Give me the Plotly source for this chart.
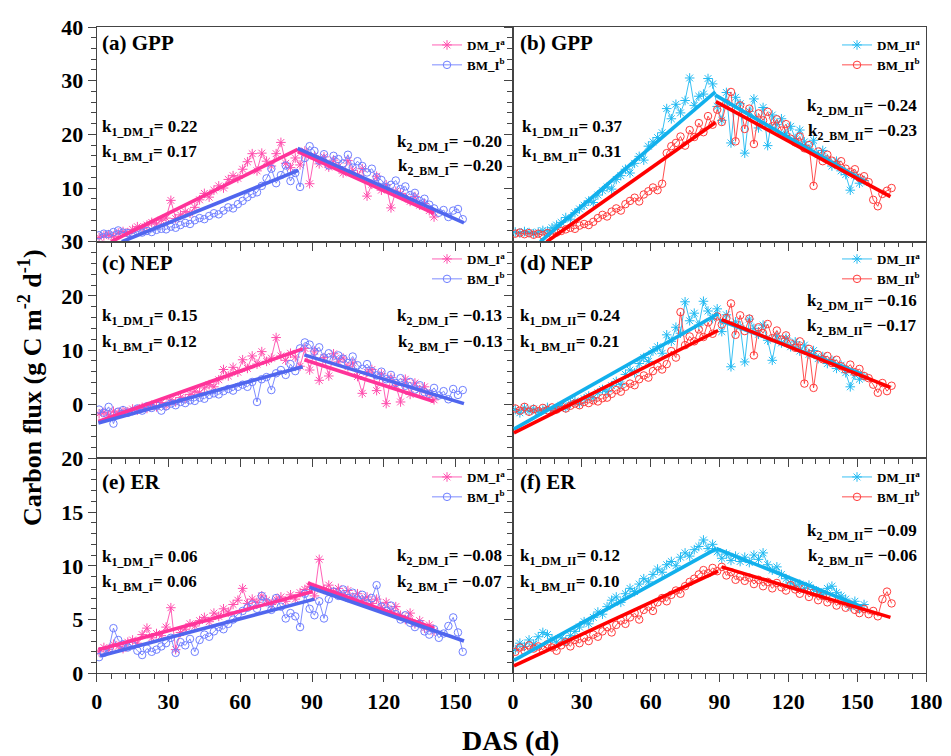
import plotly.graph_objects as go

# ------------------------------------------------------------------ data
# sampling days (every second day of the season)
days_dm_i = list(range(1, 142, 2))
days_bm_i = list(range(1, 154, 2))
days_dm_ii = list(range(1, 154, 2))
days_bm_ii = list(range(1, 166, 2))

# GPP
gpp_dm_i = [0.8, 1.1, 1.3, 1.0, 1.6, 1.9, 1.7, 2.3, 2.8, 2.5,
            3.1, 3.6, 3.3, 4.0, 4.4, 7.7, 4.3, 5.0, 5.6, 5.3,
            6.4, 7.8, 9.0, 8.3, 9.6, 10.4, 10.0, 11.6, 12.3, 11.8,
            13.5, 14.9, 16.4, 13.2, 16.5, 15.0, 14.1, 16.4, 18.5, 14.6,
            13.8, 15.6, 14.3, 16.9, 10.8, 16.0, 14.5, 15.8, 13.9, 15.2,
            14.0, 12.8, 15.1, 13.3, 12.4, 13.6, 8.5, 10.7, 12.2, 9.6,
            10.6, 6.3, 9.4, 9.0, 8.2, 7.5, 8.4, 6.8, 7.1, 5.8,
            4.6]
gpp_bm_i = [1.2, 1.5, 1.4, 1.8, 2.1, 1.7, 1.6, 1.5, 1.9, 1.7,
            2.0, 1.8, 2.2, 2.4, 2.3, 2.8, 2.6, 3.1, 3.5, 3.3,
            4.0, 4.4, 4.2, 4.8, 5.3, 5.1, 5.8, 6.4, 6.2, 7.0,
            7.6, 8.3, 8.9, 9.2, 10.4, 11.8, 13.6, 10.9, 12.4, 14.2,
            11.3, 12.8, 10.2, 15.6, 17.8, 16.9, 15.1, 16.3, 14.2, 16.0,
            15.4, 14.6, 16.2, 13.8, 15.0, 14.1, 12.9, 13.6, 12.0, 11.5,
            10.2, 10.6, 11.4, 9.8, 10.3, 8.7, 9.1, 7.6, 8.0, 6.9,
            6.2, 5.4, 5.9, 4.6, 5.8, 6.1, 4.2]
gpp_dm_ii = [1.8, 1.6, 1.9, 1.7, 1.5, 1.8, 2.1, 2.0, 2.6, 3.1,
             3.6, 4.5, 4.2, 5.4, 6.1, 6.8, 7.6, 7.3, 8.7, 9.5,
             10.2, 9.8, 11.6, 12.3, 13.5, 12.8, 14.6, 15.9, 15.2, 17.8,
             18.6, 19.4, 20.3, 24.8, 22.9, 25.6, 24.0, 26.3, 30.5, 25.4,
             27.1, 27.5, 30.4, 29.4, 25.2, 22.6, 27.8, 18.4, 26.9, 25.7,
             16.5, 24.3, 26.6, 21.2, 25.0, 17.9, 23.6, 21.8, 22.9, 20.1,
             21.5, 19.2, 20.8, 18.6, 17.3, 18.9, 16.2, 17.0, 15.4, 14.1,
             15.0, 13.2, 12.5, 9.6, 12.4, 10.9, 11.4]
gpp_bm_ii = [1.5, 1.7, 1.4, 1.6, 1.3, 1.5, 1.2, 1.6, 1.4, 1.7,
             2.0, 2.3, 2.6, 2.4, 3.0, 3.3, 3.1, 3.7, 4.4, 5.0,
             4.7, 5.6, 6.2, 5.8, 7.0, 7.6, 8.2, 7.5, 8.8, 9.4,
             10.1, 9.6, 10.8, 16.5, 17.8, 18.4, 19.6, 17.9, 20.8, 19.5,
             22.1, 20.4, 23.4, 21.8, 24.6, 22.3, 25.8, 27.9, 18.7, 25.4,
             21.0, 24.8, 18.2, 23.9, 22.6, 24.2, 21.5, 22.8, 20.7, 21.9,
             19.2, 18.5, 19.6, 17.4, 18.0, 10.4, 16.8, 15.0, 16.2, 15.1,
             14.4, 15.0, 13.6, 13.0, 13.5, 11.9, 12.2, 11.1, 7.8, 6.6,
             8.9, 9.5, 10.0]

# NEP
nep_dm_i = [-1.8, -1.5, -2.0, -1.3, -1.6, -1.2, -1.4, -0.9, -1.1, -0.6,
            -0.8, -0.2, -0.5, 0.3, -0.3, 0.8, 0.4, 1.2, 1.0, 1.8,
            2.4, 2.1, 3.0, 3.6, 3.2, 4.5, 6.4, 5.2, 6.8, 5.9,
            8.2, 6.6, 8.9, 7.4, 9.7, 7.9, 8.5, 12.3, 8.9, 8.1,
            9.4, 8.7, 7.0, 10.3, 6.3, 9.8, 4.4, 8.6, 5.2, 9.3,
            7.8, 8.5, 6.9, 7.6, 5.1, 2.0, 5.9, 6.4, 2.5, 5.6,
            0.1, 4.9, 3.5, 0.4, 4.6, 1.8, 3.9, 2.6, 3.2, 1.9,
            0.8]
nep_bm_i = [-1.0, -1.6, -0.5, -3.6, -1.4, -1.1, -1.6, -1.3, -0.8, -1.2,
            -0.4, -0.7, -0.3, -1.2, -0.4, 0.1, -0.2, 0.4, 0.2, 0.7,
            0.6, 1.2, 1.0, 1.7, 2.0, 1.8, 2.4, 2.8, 2.5, 3.2,
            3.6, 3.2, 4.1, 0.4, 4.6, 5.0, 2.6, 5.7, 6.3, 5.4,
            7.4, 6.1, 10.3, 11.4, 11.0, 9.7, 10.5, 8.6, 9.4, 8.1,
            9.0, 8.4, 7.6, 8.8, 7.2, 6.5, 7.4, 6.1, 5.3, 6.0,
            4.6, 5.4, 3.9, 4.8, 3.4, 4.1, 2.7, 3.5, 2.2, 1.9,
            3.0, 1.6, 2.4, 0.9, 2.8, 1.7, 2.6]
nep_dm_ii = [-1.0, -1.6, -0.7, -1.3, -0.9, -1.5, -1.1, -0.6, -1.2, -0.8,
             -0.3, -0.7, 0.2, 0.6, 0.1, 1.0, 1.5, 1.2, 2.1, 2.7,
             2.3, 3.4, 4.2, 3.6, 5.5, 6.3, 5.8, 7.5, 8.6, 7.9,
             9.8, 10.6, 9.4, 12.8, 11.6, 14.2, 13.1, 18.9, 15.4, 16.8,
             14.6, 19.0, 17.2, 15.8, 17.6, 13.4, 16.5, 6.9, 15.2, 14.4,
             7.8, 15.7, 14.0, 12.9, 14.6, 11.8, 8.1, 12.6, 11.3, 12.2,
             10.6, 11.5, 9.8, 10.9, 9.2, 9.9, 8.4, 8.8, 7.5, 8.1,
             6.6, 7.2, 5.8, 3.2, 5.4, 4.6, 5.1]
nep_bm_ii = [-0.8, -1.2, -0.5, -1.4, -0.9, -1.3, -0.7, -1.1, -0.6, -1.0,
             -0.4, -0.8, -0.3, 0.1, -0.2, 0.4, 0.2, 0.7, 0.5, 1.1,
             1.2, 1.9, 2.6, 2.3, 3.2, 3.8, 3.5, 4.6, 5.3, 4.9,
             6.1, 7.0, 6.4, 7.4, 9.8, 8.6, 17.0, 10.9, 12.5, 11.6,
             13.8, 12.4, 15.1, 13.0, 16.2, 14.7, 15.9, 18.6, 12.8, 16.4,
             13.5, 15.8, 9.0, 14.2, 13.1, 14.8, 12.2, 13.6, 11.9, 12.7,
             11.2, 10.4, 11.6, 3.8, 10.2, 3.0, 9.1, 8.3, 8.9, 7.6,
             8.2, 7.0, 6.4, 7.3, 5.9, 6.5, 5.2, 4.8, 3.6, 2.1,
             3.9, 2.4, 3.4]

# ER
er_dm_i = [2.0, 2.4, 2.2, 2.7, 2.5, 2.3, 2.9, 3.1, 2.8, 3.6,
           4.2, 3.3, 3.7, 3.5, 4.3, 6.1, 2.2, 3.8, 4.1, 4.6,
           4.4, 4.9, 5.2, 4.8, 5.6, 5.3, 6.0, 5.7, 6.4, 6.8,
           7.9, 6.5, 6.9, 6.6, 7.2, 6.8, 6.4, 6.9, 7.1, 6.7,
           7.3, 6.9, 7.5, 7.8, 8.1, 7.2, 10.6, 7.8, 8.2, 7.6,
           7.9, 7.3, 7.7, 7.0, 7.4, 6.8, 7.1, 6.5, 6.9, 6.1,
           6.6, 5.8, 6.2, 5.4, 5.0, 5.6, 4.6, 4.9, 4.2, 4.5,
           3.9]
er_bm_i = [1.5, 1.9, 2.2, 4.2, 3.1, 2.7, 2.4, 2.6, 2.1, 1.7,
           2.3, 2.0, 2.2, 2.5, 2.8, 3.3, 1.9, 2.9, 2.6, 3.2,
           2.0, 3.1, 3.6, 3.4, 3.9, 4.3, 4.1, 4.6, 5.0, 5.5,
           5.8, 6.1, 6.4, 6.0, 7.2, 6.6, 5.9, 7.0, 6.2, 5.1,
           5.6, 5.3, 4.3, 7.4, 6.0, 5.4, 6.7, 5.1, 6.9, 7.6,
           7.2, 7.8, 7.0, 7.5, 6.8, 7.3, 6.5, 7.0, 8.2, 6.2,
           5.8, 6.3, 5.5, 5.0, 5.4, 4.7, 4.3, 4.6, 3.9, 3.6,
           4.1, 3.3, 3.7, 4.4, 5.2, 3.8, 2.0]
er_dm_ii = [2.2, 2.8, 2.5, 3.1, 2.7, 3.4, 3.8, 3.6, 3.2, 2.9,
            3.3, 3.0, 3.5, 3.9, 4.3, 4.8, 4.6, 5.2, 5.7, 5.5,
            6.2, 6.8, 7.1, 6.6, 7.4, 7.9, 7.6, 8.3, 8.8, 8.5,
            9.2, 9.7, 9.4, 10.1, 10.4, 10.0, 10.8, 11.2, 10.9, 11.5,
            11.8, 12.4, 11.6, 12.0, 11.3, 10.7, 11.1, 10.5, 10.9, 10.4,
            10.8, 10.3, 11.0, 10.6, 11.2, 10.1, 9.6, 9.9, 9.2, 8.8,
            8.4, 8.1, 8.3, 7.9, 8.2, 7.8, 7.6, 7.3, 7.9, 8.1,
            7.5, 7.2, 6.9, 6.2, 6.7, 6.0, 6.4]
er_bm_ii = [2.0, 2.4, 2.1, 2.6, 2.3, 2.5, 2.2, 2.7, 2.4, 2.1,
            2.6, 2.9, 2.5, 3.1, 2.8, 3.3, 3.0, 3.6, 3.4, 3.9,
            4.3, 3.8, 4.5, 4.9, 4.6, 5.2, 5.6, 5.0, 5.9, 6.2,
            5.8, 6.6, 7.0, 6.7, 7.3, 7.7, 7.4, 8.1, 8.5, 8.8,
            9.2, 9.6, 9.3, 9.8, 9.5, 9.9, 9.1, 9.4, 8.7, 9.0,
            8.6, 8.9, 8.3, 8.7, 8.1, 8.5, 7.9, 8.4, 8.0, 7.7,
            8.2, 7.8, 7.4, 7.9, 7.1, 7.5, 6.8, 7.2, 6.6, 6.9,
            6.3, 6.7, 6.1, 6.4, 5.9, 5.6, 6.0, 5.5, 5.8, 5.3,
            6.9, 7.6, 6.5]

# piecewise linear fits (rising segment, gap, falling segment)
gpp_dm_i_fit_x = [6, 84, None, 84, 141]
gpp_dm_i_fit_y = [0, 17.2, None, 16.8, 5.3]
gpp_bm_i_fit_x = [10.5, 84.3, None, 84, 153.5]
gpp_bm_i_fit_y = [0, 13.3, None, 17.4, 3.5]
gpp_dm_ii_fit_x = [11.9, 88.2, None, 88.2, 153.3]
gpp_dm_ii_fit_y = [0, 27.9, None, 27.3, 11.2]
gpp_bm_ii_fit_x = [14.7, 88.2, None, 88.4, 164.5]
gpp_bm_ii_fit_y = [0, 22.2, None, 26.1, 8.4]

nep_dm_i_fit_x = [0.7, 86.1, None, 86.8, 141]
nep_dm_i_fit_y = [-3.2, 10.2, None, 8.2, 0.5]
nep_bm_i_fit_x = [0.7, 86.1, None, 86.8, 153.5]
nep_bm_i_fit_y = [-3.5, 6.9, None, 9.1, 0.1]
nep_dm_ii_fit_x = [0.4, 89.4, None, 90.1, 152]
nep_dm_ii_fit_y = [-4.6, 16.7, None, 15.5, 5.6]
nep_bm_ii_fit_x = [0.4, 89.4, None, 90.9, 164.5]
nep_bm_ii_fit_y = [-5.3, 13.6, None, 15.6, 3.1]

er_dm_i_fit_x = [0.7, 90.3, None, 88.2, 141]
er_dm_i_fit_y = [2.2, 7.6, None, 8.4, 4.2]
er_bm_i_fit_x = [1.4, 91, None, 88.9, 153.5]
er_bm_i_fit_y = [1.6, 6.9, None, 8.0, 3.0]
er_dm_ii_fit_x = [0.4, 88.7, None, 88.7, 151.9]
er_dm_ii_fit_y = [1.2, 11.6, None, 11.6, 6.2]
er_bm_ii_fit_x = [0.4, 89.4, None, 90.9, 164.5]
er_bm_ii_fit_y = [0.7, 9.5, None, 9.9, 5.2]

panel_titles = ["(a) GPP", "(b) GPP", "(c) NEP", "(d) NEP", "(e) ER", "(f) ER"]
k1_texts = [["k<sub>1_DM_I</sub>= 0.22", "k<sub>1_BM_I</sub>= 0.17"],
            ["k<sub>1_DM_II</sub>= 0.37", "k<sub>1_BM_II</sub>= 0.31"],
            ["k<sub>1_DM_I</sub>= 0.15", "k<sub>1_BM_I</sub>= 0.12"],
            ["k<sub>1_DM_II</sub>= 0.24", "k<sub>1_BM_II</sub>= 0.21"],
            ["k<sub>1_DM_I</sub>= 0.06", "k<sub>1_BM_I</sub>= 0.06"],
            ["k<sub>1_DM_II</sub>= 0.12", "k<sub>1_BM_II</sub>= 0.10"]]
k2_texts = [["k<sub>2_DM_I</sub>= \u22120.20", "k<sub>2_BM_I</sub>= \u22120.20"],
            ["k<sub>2_DM_II</sub>= \u22120.24", "k<sub>2_BM_II</sub>= \u22120.23"],
            ["k<sub>2_DM_I</sub>= \u22120.13", "k<sub>2_BM_I</sub>= \u22120.13"],
            ["k<sub>2_DM_II</sub>= \u22120.16", "k<sub>2_BM_II</sub>= \u22120.17"],
            ["k<sub>2_DM_I</sub>= \u22120.08", "k<sub>2_BM_I</sub>= \u22120.07"],
            ["k<sub>2_DM_II</sub>= \u22120.09", "k<sub>2_BM_II</sub>= \u22120.06"]]

x_ticks_left = [0, 30, 60, 90, 120, 150]
x_ticks_right = [0, 30, 60, 90, 120, 150, 180]
y_ticks_rows = [[0, 10, 20, 30, 40], [-10, 0, 10, 20, 30], [0, 5, 10, 15, 20]]
y_text_rows = [["", "10", "20", "30", "40"], ["", "0", "10", "20", "30"],
               ["0", "5", "10", "15", "20"]]

for a, b in [(days_dm_i, gpp_dm_i), (days_bm_i, gpp_bm_i), (days_dm_ii, gpp_dm_ii),
             (days_bm_ii, gpp_bm_ii), (days_dm_i, nep_dm_i), (days_bm_i, nep_bm_i),
             (days_dm_ii, nep_dm_ii), (days_bm_ii, nep_bm_ii), (days_dm_i, er_dm_i),
             (days_bm_i, er_bm_i), (days_dm_ii, er_dm_ii), (days_bm_ii, er_bm_ii)]:
    assert len(a) == len(b), (len(a), len(b))

# ------------------------------------------------------------------ style
# the page body has an 8 px margin: reference pixel positions are shifted
OFF = 8
W, H = 951 - OFF, 756 - OFF
SERIF = "Liberation Serif, Times New Roman, Times, DejaVu Serif, serif"
PINK, PINK_FIT = "#FF4FAE", "#FF3399"
BLUE, BLUE_FIT = "#6F7FFF", "#5066EE"
CYAN, CYAN_FIT = "#22BAF2", "#12B0EC"
RED, RED_FIT = "#FF3B3B", "#FF0000"
AX = "#444444"


def px(x):
    return (x - OFF) / W


def py(y):
    return 1 - (y - OFF) / H


RIGHT_EDGE = 926
X_DOM = [[px(96.7), px(513)], [px(513), px(RIGHT_EDGE)]]
Y_DOM = [[py(241.7), py(27)], [py(458.3), py(241.7)], [py(673.3), py(458.3)]]
Y_RANGE = [[0, 40], [-10, 30], [0, 20]]
Y_MINOR = [2, 2, 1]
X_RANGE = [[0, 174], [0, 180]]

panels = [
    (0, 0, (days_dm_i, gpp_dm_i), (days_bm_i, gpp_bm_i),
     (gpp_dm_i_fit_x, gpp_dm_i_fit_y), (gpp_bm_i_fit_x, gpp_bm_i_fit_y)),
    (0, 1, (days_dm_ii, gpp_dm_ii), (days_bm_ii, gpp_bm_ii),
     (gpp_dm_ii_fit_x, gpp_dm_ii_fit_y), (gpp_bm_ii_fit_x, gpp_bm_ii_fit_y)),
    (1, 0, (days_dm_i, nep_dm_i), (days_bm_i, nep_bm_i),
     (nep_dm_i_fit_x, nep_dm_i_fit_y), (nep_bm_i_fit_x, nep_bm_i_fit_y)),
    (1, 1, (days_dm_ii, nep_dm_ii), (days_bm_ii, nep_bm_ii),
     (nep_dm_ii_fit_x, nep_dm_ii_fit_y), (nep_bm_ii_fit_x, nep_bm_ii_fit_y)),
    (2, 0, (days_dm_i, er_dm_i), (days_bm_i, er_bm_i),
     (er_dm_i_fit_x, er_dm_i_fit_y), (er_bm_i_fit_x, er_bm_i_fit_y)),
    (2, 1, (days_dm_ii, er_dm_ii), (days_bm_ii, er_bm_ii),
     (er_dm_ii_fit_x, er_dm_ii_fit_y), (er_bm_ii_fit_x, er_bm_ii_fit_y)),
]

# annotation pixel positions (reference image pixels)
title_x = [100, 518]
title_y = [43.3, 263.3, 481.7]
k1_x = [100, 520, 100, 518, 100, 518]
k1_y = [(128.3, 153.3), (128.3, 153.3), (317.3, 342.7), (317.3, 342.7),
        (558.3, 583.3), (557.3, 583.3)]
k2_x = [504, RIGHT_EDGE - 7, 504, RIGHT_EDGE - 7, 504, RIGHT_EDGE - 7]
k2_y = [(143.3, 166.7), (106.7, 131.7), (317.3, 342.7), (301.7, 327.3),
        (557.3, 583.3), (531.7, 557.3)]
leg_x = [511, RIGHT_EDGE]
leg_y = [30, 244, 462]

fig = go.Figure()
layout = dict(
    width=W, height=H, margin=dict(l=0, r=0, t=0, b=0),
    paper_bgcolor="white", plot_bgcolor="white", template="none",
    font=dict(family=SERIF, color="black"),
)
annotations = []
tickfont = dict(family=SERIF, size=22, color="black", weight="bold")
legfont = dict(family=SERIF, size=13, color="black", weight="bold")
kfont = dict(family=SERIF, size=17, color="black", weight="bold")

for i, (row, col, dm, bm, dmf, bmf) in enumerate(panels):
    sfx = "" if i == 0 else str(i + 1)
    xa, ya, leg = "x" + sfx, "y" + sfx, "legend" + sfx
    c_dm, c_dmf = (PINK, PINK_FIT) if col == 0 else (CYAN, CYAN_FIT)
    c_bm, c_bmf = (BLUE, BLUE_FIT) if col == 0 else (RED, RED_FIT)
    suf = "I" if col == 0 else "II"
    fig.add_trace(go.Scatter(
        x=dm[0], y=dm[1], mode="lines+markers", name="DM_" + suf + "<sup>a</sup>",
        line=dict(color=c_dm, width=0.9),
        marker=dict(symbol="asterisk-open", size=8, color=c_dm, line=dict(color=c_dm, width=1)),
        xaxis=xa, yaxis=ya, legend=leg))
    fig.add_trace(go.Scatter(
        x=bm[0], y=bm[1], mode="lines+markers", name="BM_" + suf + "<sup>b</sup>",
        line=dict(color=c_bm, width=0.9),
        marker=dict(symbol="circle-open", size=7.5, color=c_bm, line=dict(color=c_bm, width=1)),
        xaxis=xa, yaxis=ya, legend=leg))
    fig.add_trace(go.Scatter(x=dmf[0], y=dmf[1], mode="lines", showlegend=False,
                             line=dict(color=c_dmf, width=3.6), xaxis=xa, yaxis=ya))
    fig.add_trace(go.Scatter(x=bmf[0], y=bmf[1], mode="lines", showlegend=False,
                             line=dict(color=c_bmf, width=3.6), xaxis=xa, yaxis=ya))

    layout["xaxis" + sfx] = dict(
        domain=X_DOM[col], range=X_RANGE[col], anchor=ya,
        tickmode="array", tickvals=x_ticks_left if col == 0 else x_ticks_right,
        showticklabels=(row == 2), tickfont=tickfont,
        ticks="outside", ticklen=8, tickwidth=1.3, tickcolor=AX,
        minor=dict(tickmode="linear", tick0=0, dtick=6, ticks="outside",
                   ticklen=4.5, tickwidth=1.2, tickcolor=AX, showgrid=False),
        showline=True, linecolor=AX, linewidth=1.3, mirror=True,
        showgrid=False, zeroline=False, automargin=False)
    layout["yaxis" + sfx] = dict(
        domain=Y_DOM[row], range=Y_RANGE[row], anchor=xa,
        tickmode="array", tickvals=y_ticks_rows[row], ticktext=y_text_rows[row],
        showticklabels=(col == 0), tickfont=tickfont,
        ticks="outside", ticklen=8, tickwidth=1.3, tickcolor=AX,
        minor=dict(tickmode="linear", tick0=0, dtick=Y_MINOR[row], ticks="outside",
                   ticklen=4.5, tickwidth=1.2, tickcolor=AX, showgrid=False),
        showline=True, linecolor=AX, linewidth=1.3, mirror=True,
        showgrid=False, zeroline=False, automargin=False)
    layout[leg] = dict(
        x=px(leg_x[col]), xanchor="right", y=py(leg_y[row]), yanchor="top",
        bgcolor="rgba(0,0,0,0)", borderwidth=0, font=legfont, tracegroupgap=0)

    annotations.append(dict(
        text=panel_titles[i], x=px(title_x[col]), y=py(title_y[row]),
        xref="paper", yref="paper", xanchor="left", yanchor="middle", showarrow=False,
        font=dict(family=SERIF, size=21, color="black", weight="bold")))
    for j in range(2):
        annotations.append(dict(
            text=k1_texts[i][j], x=px(k1_x[i]), y=py(k1_y[i][j]),
            xref="paper", yref="paper", xanchor="left", yanchor="middle",
            showarrow=False, font=kfont))
        annotations.append(dict(
            text=k2_texts[i][j], x=px(k2_x[i]), y=py(k2_y[i][j]),
            xref="paper", yref="paper", xanchor="right", yanchor="middle",
            showarrow=False, font=kfont))

annotations.append(dict(
    text="Carbon flux (g C m<sup>-2</sup> d<sup>-1</sup>)", x=px(30), y=py(388),
    xref="paper", yref="paper", xanchor="center", yanchor="middle", textangle=-90,
    showarrow=False, font=dict(family=SERIF, size=26, color="black", weight="bold")))
annotations.append(dict(
    text="DAS (d)", x=px(510), y=py(740), xref="paper", yref="paper",
    xanchor="center", yanchor="middle", showarrow=False,
    font=dict(family=SERIF, size=28, color="black", weight="bold")))

layout["annotations"] = annotations
fig.update_layout(**layout)
fig.write_html("out.html")
